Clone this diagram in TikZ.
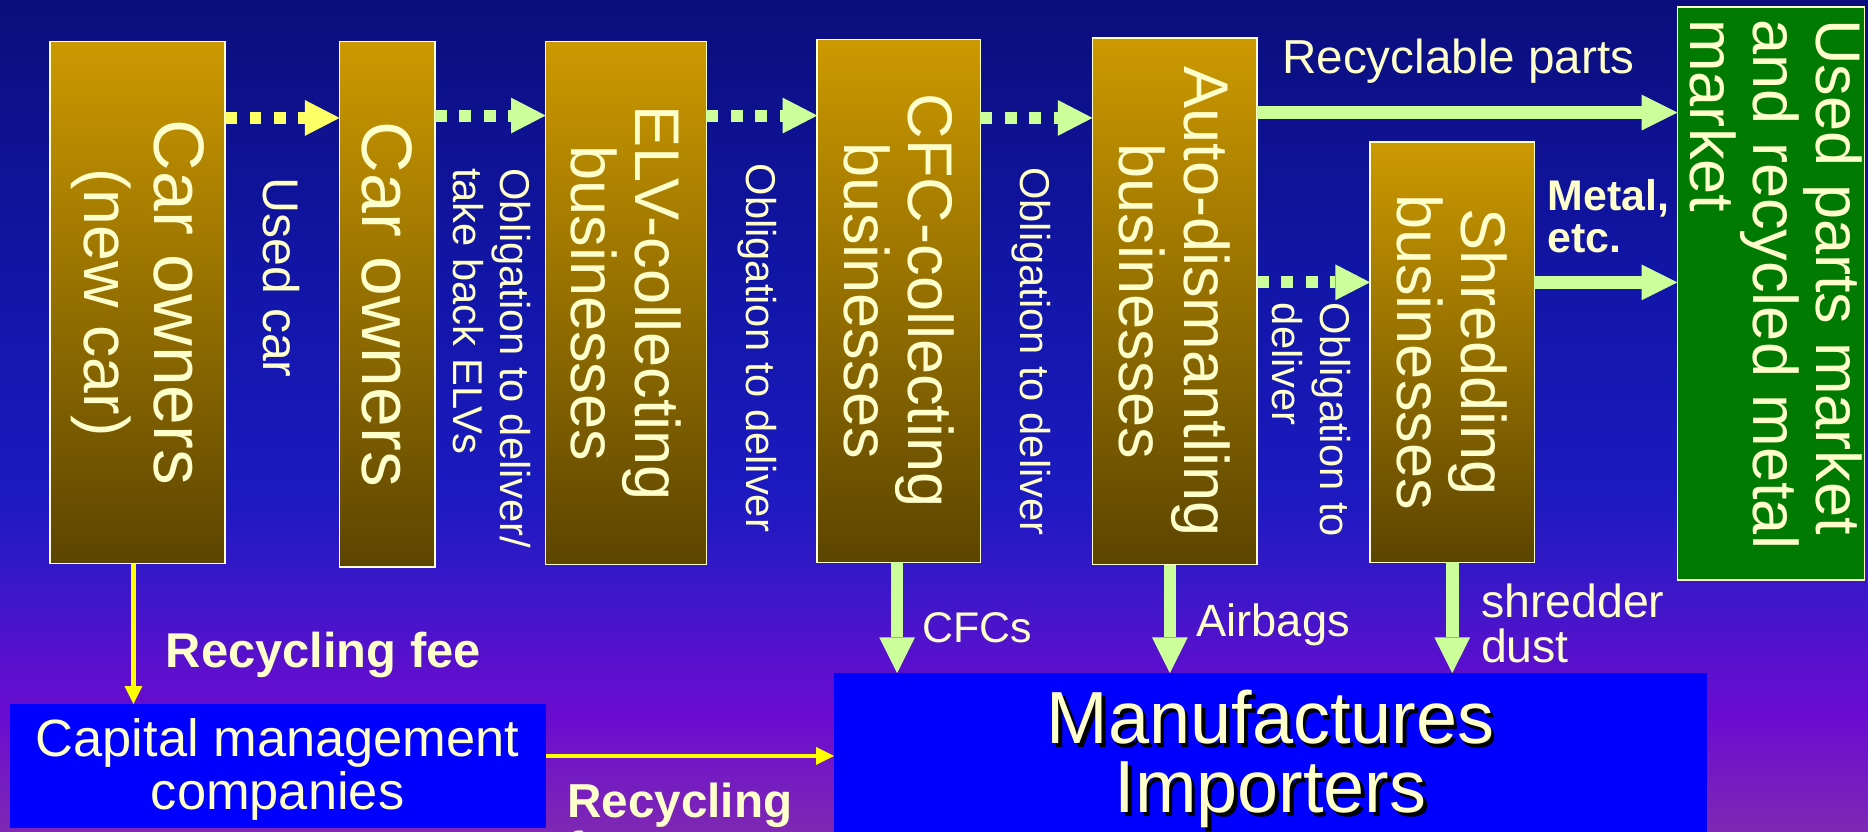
\documentclass[tikz,border=0pt]{standalone}
\usepackage{fontspec}
\setmainfont{Liberation Sans}
\usetikzlibrary{arrows.meta}
\definecolor{cream}{HTML}{FFFFCC}
\definecolor{goldtop}{HTML}{CC9900}
\definecolor{goldbot}{HTML}{5C4500}
\definecolor{mkgreen}{HTML}{007A00}
\definecolor{pureblue}{HTML}{0000FF}
\definecolor{lgreen}{HTML}{CCFF99}
\definecolor{dyellow}{HTML}{FFFF66}
\definecolor{syellow}{HTML}{FFFF00}
\definecolor{bga}{HTML}{7E28B4}
\definecolor{bgb}{HTML}{6A0CD0}
\definecolor{bgc}{HTML}{5A10CC}
\definecolor{bgd}{HTML}{3818C8}
\definecolor{bge}{HTML}{1C1AC0}
\definecolor{bgf}{HTML}{1216A8}
\definecolor{bgg}{HTML}{0A0E7C}
\pgfdeclareverticalshading{bgshade}{100bp}{color(0bp)=(bga); color(25bp)=(bga); color(32bp)=(bgb); color(35bp)=(bgc); color(40bp)=(bgd); color(45bp)=(bge); color(57.5bp)=(bgf); color(75bp)=(bgg); color(100bp)=(bgg)}
\newcommand{\fs}[2]{\fontsize{#1}{#2}\selectfont}
\begin{document}
\begin{tikzpicture}[x=1pt,y=-1pt,
  bbox/.style={draw=cream, line width=1.3pt, top color=goldtop, bottom color=goldbot, outer sep=0pt, inner sep=0pt},
  gbox/.style={draw=cream, line width=1.3pt, fill=mkgreen, outer sep=0pt, inner sep=0pt},
  bluebox/.style={fill=pureblue, outer sep=0pt, inner sep=0pt},
  boxtext/.style={rotate=-90, align=center, text=cream, inner sep=0pt, font=\fs{53}{54}},
  vlabel/.style={rotate=-90, text=cream, inner sep=0pt, font=\fs{35}{40}},
  hlabel/.style={text=cream, inner sep=0pt},
  ydot/.style={draw=dyellow, line width=10pt, dash pattern=on 10pt off 10.5pt, -{Triangle[length=29pt,width=30pt,line width=0pt]}},
  gdot/.style={draw=lgreen, line width=10pt, dash pattern=on 10pt off 10.5pt, -{Triangle[length=29pt,width=30pt,line width=0pt]}},
  garrow/.style={draw=lgreen, line width=10.5pt, -{Triangle[length=30pt,width=30pt,line width=0pt]}},
  yarrow/.style={draw=syellow, line width=4pt, -{Triangle[length=15pt,width=15pt,line width=0pt]}}
]
\useasboundingbox (0,0) rectangle (1568,698);
\shade[shading=bgshade] (0,0) rectangle (1568,698);

% boxes
\node[bbox, minimum width=147pt, minimum height=438pt] (b1) at (115.5,254) {};
\node[bbox, minimum width=80pt, minimum height=441pt] (b2) at (325,255.5) {};
\node[bbox, minimum width=135pt, minimum height=439pt] (b3) at (525.5,254.5) {};
\node[bbox, minimum width=137pt, minimum height=439pt] (b4) at (754.5,252.5) {};
\node[bbox, minimum width=138pt, minimum height=442pt] (b5) at (986,253) {};
\node[bbox, minimum width=138pt, minimum height=353pt] (b6) at (1219,295.5) {};
\node[gbox, minimum width=157pt, minimum height=481pt] (b7) at (1486.5,246.5) {};
\node[bluebox, minimum width=450pt, minimum height=104pt] (cap) at (233,643) {};
\node[bluebox, minimum width=733pt, minimum height=160pt] (man) at (1066.5,645) {};

% box texts
\node[boxtext, font=\fs{60}{59}] (t1) at (b1) {Car owners\\{\fs{54}{59}(new car)}};
\node[boxtext, font=\fs{60}{59}] (t2) at (b2) {Car owners};
\node[boxtext] (t3) at (b3) {ELV-collecting\\businesses};
\node[boxtext] (t4) at (b4) {CFC-collecting\\businesses};
\node[boxtext] (t5) at (b5) {Auto-dismantling\\businesses};
\node[boxtext] (t6) at (b6) {Shredding\\businesses};
\node[boxtext, align=left, anchor=north west, font=\fs{53}{52.5}] (t7) at (1563,16) {Used parts market\\and recycled metal\\market};
\node[hlabel, align=center, anchor=north, font=\fs{44}{44}] (t8) at (cap.north |- 0,603) {Capital management\\companies};
\node[hlabel, align=center, anchor=north, font=\fs{62}{58}, text=black] (t9s) at (1069.5,582) {Manufactures\\Importers};
\node[hlabel, align=center, anchor=north, font=\fs{62}{58}] (t9) at (1066.5,579) {Manufactures\\Importers};

% coordinates for connector heights
\coordinate (ra) at (0,99);
\coordinate (rb) at (0,97);
\coordinate (rc) at (0,94.5);
\coordinate (rd) at (0,237);
\coordinate (ca) at (753,0);
\coordinate (cb) at (982,0);
\coordinate (cc) at (1219,0);
\coordinate (cy) at (112,0);
\coordinate (cz) at (0,634.5);

% dotted arrows
\draw[ydot] (b1.east |- ra) -- (b2.west |- ra);
\draw[gdot] (b2.east |- rb) -- (b3.west |- rb);
\draw[gdot] (b3.east |- rb) -- (b4.west |- rb);
\draw[gdot] (b4.east |- ra) -- (b5.west |- ra);
\draw[gdot] (b5.east |- rd) -- (b6.west |- rd);
% solid arrows
\draw[garrow] (b5.east |- rc) -- (b7.west |- rc);
\draw[garrow] (b6.east |- rd) -- (b7.west |- rd);
\draw[garrow] (b4.south -| ca) -- (man.north -| ca);
\draw[garrow] (b5.south -| cb) -- (man.north -| cb);
\draw[garrow] (b6.south -| cc) -- (man.north -| cc);
\draw[yarrow] (b1.south -| cy) -- (cap.north -| cy);
\draw[yarrow] (cap.east |- cz) -- (man.west |- cz);

% labels
\node[vlabel, font=\fs{42}{42}] (l1) at (236,233) {Used car};
\node[vlabel, align=left, anchor=north west] (l2) at (446,141) {Obligation to deliver/\\take back ELVs};
\node[vlabel] (l3) at (636,292) {Obligation to deliver};
\node[vlabel] (l4) at (866,295) {Obligation to deliver};
\node[vlabel, align=left, anchor=north west] (l5) at (1134,254) {Obligation to\\deliver};
\node[hlabel, anchor=base west, font=\fs{40}{40}] (l6) at (1076,61.5) {Recyclable parts};
\node[hlabel, align=left, anchor=north west, font=\fs{36}{36}\bfseries] (l7) at (1299,150) {Metal,\\etc.};
\node[hlabel, anchor=base west, font=\fs{36}{36}] (l8) at (774,539) {CFCs};
\node[hlabel, anchor=base west, font=\fs{38}{38}] (l9) at (1004,534) {Airbags};
\node[hlabel, align=left, anchor=north west, font=\fs{39}{38}] (l10) at (1243,490) {shredder\\dust};
\node[hlabel, anchor=base west, font=\fs{41}{41}\bfseries] (l11) at (139,560) {Recycling fee};
\node[hlabel, align=left, anchor=north west, font=\fs{40}{40}\bfseries] (l12) at (476,657) {Recycling\\fee};
\end{tikzpicture}
\end{document}
